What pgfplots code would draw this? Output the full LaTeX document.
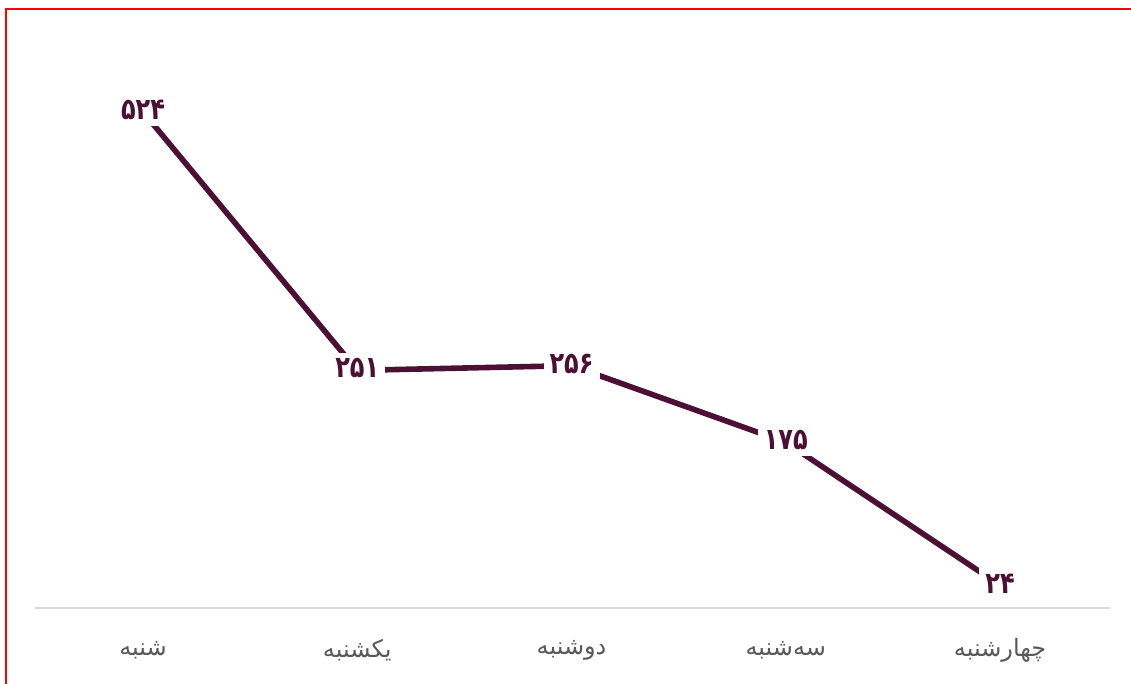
\documentclass[border=0pt]{standalone}
\usepackage{pgfplots}
\pgfplotsset{compat=1.18}
\usepackage{fontspec}
\TeXXeTstate=1
\newfontfamily\farsi[Script=Arabic]{DejaVu Sans}
\newfontfamily\farsinum[Script=Arabic, FakeStretch=0.8]{DejaVu Sans}
\definecolor{linecol}{HTML}{4D1035}
\definecolor{labelgray}{HTML}{595959}
\definecolor{axisgray}{HTML}{D9D9D9}

\begin{document}
% 1 unit = 1 px of the reference
\begin{tikzpicture}[x=0.5pt, y=0.5pt]
\path[use as bounding box] (0,0) rectangle (1131,684);
\draw[red, line width=1pt] (6,-10) -- (6,674.5) -- (1145,674.5);

\begin{axis}[
    at={(17.5pt,38pt)}, anchor=south west,
    scale only axis,
    width=537.5pt, height=284pt,
    xmin=-0.504, xmax=4.513,
    ymin=0, ymax=600,
    axis x line=bottom,
    axis y line=none,
    x axis line style={draw=axisgray, line width=1pt, -},
    xtick=data,
    xticklabels={
        {\farsi\beginR شنبه\endR},
        {\farsi\beginR یکشنبه\endR},
        {\farsi\beginR دوشنبه\endR},
        {\farsi\beginR سه‌شنبه\endR},
        {\farsi\beginR چهارشنبه\endR}},
    major tick length=0pt,
    xticklabel style={text=labelgray, font=\fontsize{12}{12}\selectfont, anchor=center, yshift=-21pt},
    clip=false,
]
\addplot[
    color=linecol, line width=2.8pt, no marks,
    point meta=explicit symbolic,
    nodes near coords,
    every node near coord/.style={
        anchor=center, fill=white, inner sep=3pt, yshift=1pt,
        text=linecol, font=\farsinum\bfseries\fontsize{15}{15}\selectfont},
] coordinates {
    (0,524) [۵۲۴]
    (1,251) [۲۵۱]
    (2,256) [۲۵۶]
    (3,175) [۱۷۵]
    (4,24)  [۲۴]
};
\end{axis}
\end{tikzpicture}
\end{document}
